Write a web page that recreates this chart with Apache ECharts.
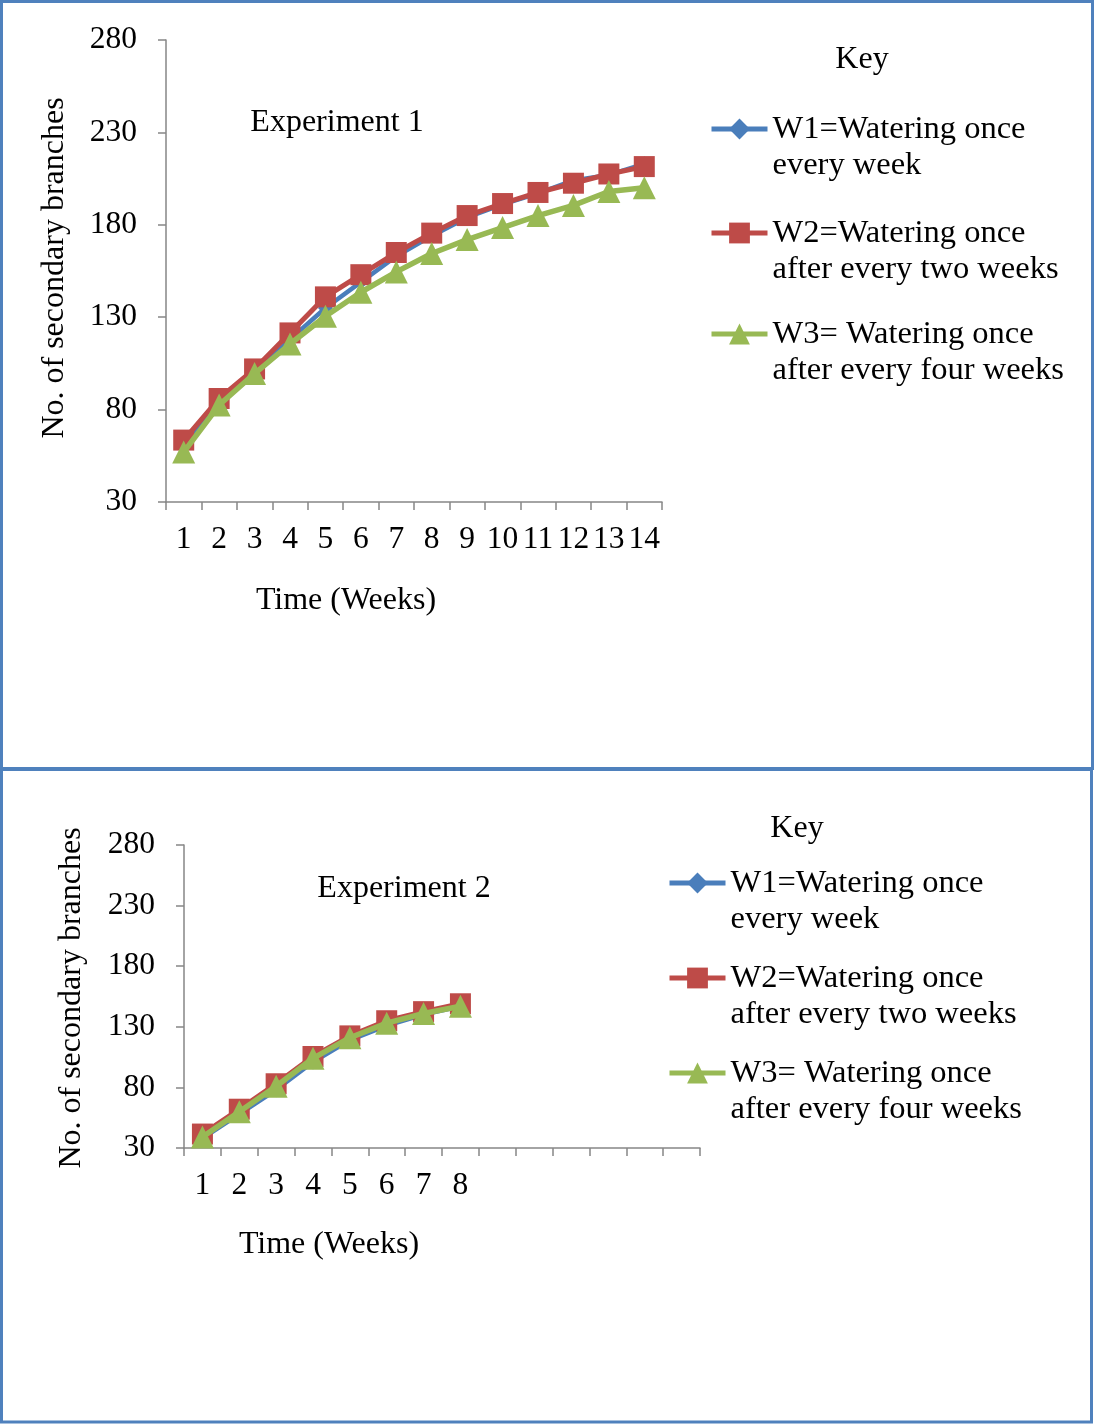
<!DOCTYPE html>
<html>
<head>
<meta charset="utf-8">
<script src="https://cdn.jsdelivr.net/npm/echarts@6/dist/echarts.min.js"></script>
<style>
  html, body { margin: 0; padding: 0; background: #fff; }
  #chart { width: 1095px; height: 1424px; }
</style>
</head>
<body>
<div id="chart"></div>
<script>
// Number of secondary branches per week, two watering experiments
const weeks = ['1','2','3','4','5','6','7','8','9','10','11','12','13','14'];
const yTicks = { min: 30, max: 280, step: 50 };

const seriesNames = [
  'W1=Watering once\nevery week',
  'W2=Watering once\nafter every two weeks',
  'W3= Watering once\nafter every four weeks'
];

// Experiment 1 (14 weeks)
const exp1W1 = [60, 84, 99, 118, 135, 149, 163, 174, 184, 191, 197, 204, 207, 213];
const exp1W2 = [63.5, 86, 102, 121.5, 141, 153, 165, 175.5, 185, 191.5, 197.5, 202.5, 207.5, 211.5];
const exp1W3 = [57, 82.5, 99.5, 115.5, 130.5, 143.5, 154.5, 164.5, 172, 178.5, 185, 190.5, 198, 200];

// Experiment 2 (8 weeks recorded on a 14-week axis)
const exp2Labels = ['1','2','3','4','5','6','7','8'];
const exp2W1 = [38, 58, 78, 101, 119, 131, 140, 147];
const exp2W2 = [41.5, 62, 83, 105.5, 122.5, 135, 142.5, 149];
const exp2W3 = [39, 60, 81, 104, 121, 133, 141, 147];

const FONT = 'Liberation Serif, Times New Roman, serif';
const AXIS_GREY = '#868686';
const colors = ['#4A7EBB', '#BE4B48', '#98B954'];
const symbols = ['diamond', 'rect', 'triangle'];
const symbolSizes = [15, 21, 23];
const lineWidths = [4.5, 5, 5.5];

function makeXAxis(gridIndex, showLabel) {
  return {
    type: 'category', gridIndex, data: weeks, boundaryGap: true,
    axisLine: { lineStyle: { color: AXIS_GREY, width: 1.5 } },
    axisTick: { show: true, length: 8, interval: 0, lineStyle: { color: AXIS_GREY, width: 1.5 } },
    axisLabel: {
      interval: 0, margin: 22, color: '#000', fontFamily: FONT, fontSize: 31.5,
      formatter: (v, i) => showLabel(i) ? v : ''
    },
    splitLine: { show: false }
  };
}

function makeYAxis(gridIndex) {
  return {
    type: 'value', gridIndex, min: yTicks.min, max: yTicks.max, interval: yTicks.step,
    axisLine: { show: true, lineStyle: { color: AXIS_GREY, width: 1.5 } },
    axisTick: { show: true, length: 8, lineStyle: { color: AXIS_GREY, width: 1.5 } },
    axisLabel: { margin: 29, color: '#000', fontFamily: FONT, fontSize: 31.5 },
    splitLine: { show: false }
  };
}

function makeSeries(idx, gridIdx, values) {
  return {
    type: 'line', name: seriesNames[idx],
    xAxisIndex: gridIdx, yAxisIndex: gridIdx,
    data: values,
    symbol: symbols[idx], symbolSize: symbolSizes[idx],
    showAllSymbol: true,
    lineStyle: { color: colors[idx], width: lineWidths[idx] },
    itemStyle: { color: colors[idx] },
    emphasis: { disabled: true },
    animation: false,
    z: 2 + idx
  };
}

function makeLegend(idx, left, top) {
  return {
    data: [seriesNames[idx]], orient: 'vertical', left, top, padding: 0,
    itemWidth: 56, itemHeight: 26,
    formatter: name => '\n' + name,
    lineStyle: { width: 5 },
    textStyle: { fontFamily: FONT, fontSize: 32.5, lineHeight: 36, color: '#000' },
    selectedMode: false
  };
}

function label(text, x, y, rotate) {
  return {
    type: 'text', x, y, rotation: rotate ? Math.PI / 2 : 0,
    style: { text, fontFamily: FONT, fontSize: 32, fill: '#000', align: 'center', verticalAlign: 'middle' }
  };
}

const chart = echarts.init(document.getElementById('chart'), null, { renderer: 'canvas' });

chart.setOption({
  backgroundColor: '#fff',
  animation: false,
  grid: [
    { left: 166, top: 40, width: 496, height: 462 },
    { left: 184, top: 845, width: 516, height: 303 }
  ],
  xAxis: [
    makeXAxis(0, () => true),
    makeXAxis(1, i => i < exp2Labels.length)
  ],
  yAxis: [makeYAxis(0), makeYAxis(1)],
  legend: [
    makeLegend(0, 709, 75), makeLegend(1, 709, 179), makeLegend(2, 709, 280),
    makeLegend(0, 667, 829), makeLegend(1, 667, 924), makeLegend(2, 667, 1019)
  ],
  series: [
    makeSeries(0, 0, exp1W1), makeSeries(1, 0, exp1W2), makeSeries(2, 0, exp1W3),
    makeSeries(0, 1, exp2W1), makeSeries(1, 1, exp2W2), makeSeries(2, 1, exp2W3)
  ],
  graphic: [
    // panel frames
    { type: 'rect', shape: { x: 1.5, y: 1.5, width: 1091, height: 767 },
      style: { fill: 'none', stroke: '#4F81BD', lineWidth: 3 }, silent: true },
    { type: 'rect', shape: { x: 1.5, y: 769.5, width: 1090, height: 652.5 },
      style: { fill: 'none', stroke: '#4F81BD', lineWidth: 3 }, silent: true },
    // Experiment 1 texts
    label('Key', 862, 60),
    label('Experiment 1', 337, 123),
    label('Time (Weeks)', 346, 601),
    label('No. of secondary branches', 55, 268, true),
    // Experiment 2 texts
    label('Key', 797, 829),
    label('Experiment 2', 404, 889),
    label('Time (Weeks)', 329, 1245),
    label('No. of secondary branches', 72, 998, true)
  ]
});
</script>
</body>
</html>
